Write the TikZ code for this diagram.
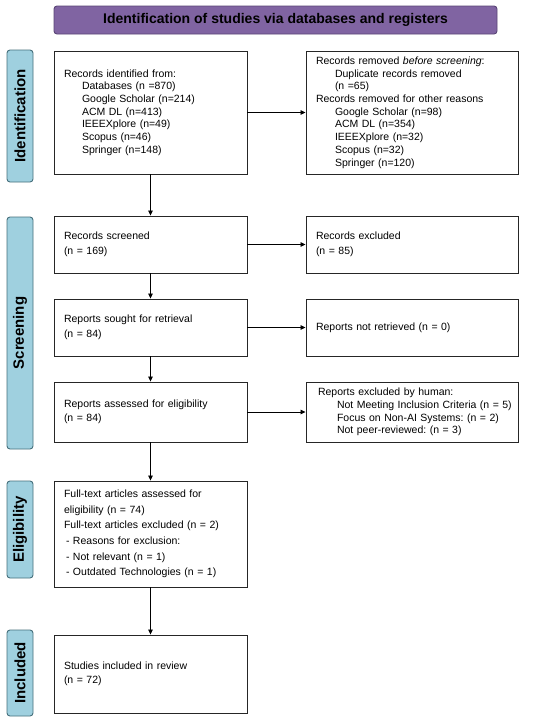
\documentclass[tikz,border=0pt]{standalone}
\usepackage{fontspec}
\setmainfont{Liberation Sans}
\usetikzlibrary{arrows.meta}
\definecolor{hdrfill}{HTML}{8064A2}
\definecolor{hdrdraw}{HTML}{5A4676}
\definecolor{sidefill}{HTML}{9FD0DF}
\definecolor{sidedraw}{HTML}{46707C}
\begin{document}
\frenchspacing
\begin{tikzpicture}[x=1pt,y=-1pt,
  box/.style={draw=black!85, line width=0.9pt, fill=white, inner xsep=10pt, inner ysep=0pt,
    align=left, font=\fontsize{10.5}{12.7}\selectfont},
  lbox/.style={box, minimum width=193pt, text width=173pt},
  rbox/.style={box, minimum width=212pt, text width=192pt},
  side/.style={draw=sidedraw, fill=sidefill, line width=0.9pt, rounded corners=3pt,
    rotate=90, minimum height=26pt, inner sep=0pt, font=\bfseries\fontsize{15}{16}\selectfont},
  hdr/.style={draw=hdrdraw, fill=hdrfill, line width=0.9pt, rounded corners=3pt,
    minimum width=443pt, minimum height=28pt, inner sep=0pt, font=\bfseries\fontsize{14}{16}\selectfont},
  arr/.style={draw=black, line width=0.8pt, -{Triangle[length=5pt,width=4.5pt]}}
]
\useasboundingbox (0,0) rectangle (550,724);
\fill[white] (0,0) rectangle (550,724);

\node[hdr] (hdr) at (275.5,20) {Identification of studies via databases and registers};

\node[side, minimum width=132pt] (sid) at (20,116) {Identification};
\node[side, minimum width=232pt] (ssc) at (20,333) {Screening};
\node[side, minimum width=97pt] (sel) at (20,529.5) {Eligibility};
\node[side, minimum width=86pt] (sin) at (20,673) {Included};

\node[lbox, minimum height=123pt] (b1) at (150.5,112.5) {Records identified from:\\
\hspace*{18pt}Databases (n =870)\\
\hspace*{18pt}Google Scholar (n=214)\\
\hspace*{18pt}ACM DL (n=413)\\
\hspace*{18pt}IEEEXplore (n=49)\\
\hspace*{18pt}Scopus (n=46)\\
\hspace*{18pt}Springer (n=148)};

\node[rbox, minimum height=123pt] (b2) at (412,112.5) {Records removed \textit{before screening}:\\
\hspace*{19pt}Duplicate records removed\\
\hspace*{19pt}(n =65)\\
Records removed for other reasons\\
\hspace*{19pt}Google Scholar (n=98)\\
\hspace*{19pt}ACM DL (n=354)\\
\hspace*{19pt}IEEEXplore (n=32)\\
\hspace*{19pt}Scopus (n=32)\\
\hspace*{19pt}Springer (n=120)};

\node[lbox, minimum height=57pt, font=\fontsize{10.5}{14.5}\selectfont] (scr) at (150.5,244.5) {Records screened\\(n = 169)};
\node[rbox, minimum height=57pt, font=\fontsize{10.5}{14.5}\selectfont] (exc) at (412,244.5) {Records excluded\\(n = 85)};

\node[lbox, minimum height=57pt, font=\fontsize{10.5}{14.5}\selectfont] (sou) at (150.5,327.5) {Reports sought for retrieval\\(n = 84)};
\node[rbox, minimum height=57pt] (nre) at (412,327.5) {Reports not retrieved (n = 0)};

\node[lbox, minimum height=60pt, font=\fontsize{10.5}{14}\selectfont] (ass) at (150.5,412) {Reports assessed for eligibility\\(n = 84)};
\node[box, minimum width=212pt, text width=204pt, inner xsep=4pt, minimum height=60pt] (hum) at (412,412) {\hspace*{8pt}Reports excluded by human:\\
\hspace*{27pt}Not Meeting Inclusion Criteria (n = 5)\\
\hspace*{27pt}Focus on Non-AI Systems: (n = 2)\\
\hspace*{27pt}Not peer-reviewed: (n = 3)};

\node[lbox, minimum height=106pt, font=\fontsize{10.5}{15.6}\selectfont] (ful) at (150.5,534) {Full-text articles assessed for\\
eligibility (n = 74)\\
Full-text articles excluded (n = 2)\\
\hspace*{2pt}- Reasons for exclusion:\\
\hspace*{2pt}- Not relevant (n = 1)\\
\hspace*{2pt}- Outdated Technologies (n = 1)};

\node[lbox, minimum height=78pt, font=\fontsize{10.5}{13.5}\selectfont] (inc) at (150.5,674) {Studies included in review\\(n = 72)};

\draw[arr] (b1.east) -- (b2.west);
\draw[arr] (scr.east) -- (exc.west);
\draw[arr] (sou.east) -- (nre.west);
\draw[arr] (ass.east) -- (hum.west);
\draw[arr] (b1.south) -- (scr.north);
\draw[arr] (scr.south) -- (sou.north);
\draw[arr] (sou.south) -- (ass.north);
\draw[arr] (ass.south) -- (ful.north);
\draw[arr] (ful.south) -- (inc.north);
\end{tikzpicture}
\end{document}
